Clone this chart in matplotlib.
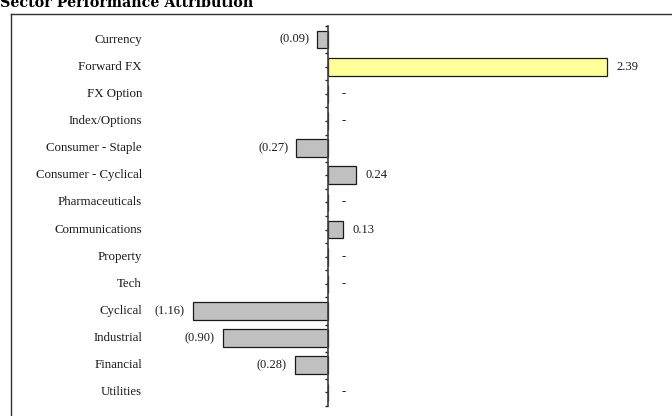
import matplotlib
matplotlib.use("Agg")
import matplotlib.pyplot as plt
from matplotlib.lines import Line2D
from matplotlib.ticker import FixedLocator
import matplotlib.transforms as mtransforms

sectors = ["Currency", "Forward FX", "FX Option", "Index/Options",
           "Consumer - Staple", "Consumer - Cyclical", "Pharmaceuticals",
           "Communications", "Property", "Tech", "Cyclical", "Industrial",
           "Financial", "Utilities"]
values = [-0.09, 2.39, 0.0, 0.0, -0.27, 0.24, 0.0, 0.13, 0.0, 0.0,
          -1.16, -0.90, -0.28, 0.0]
highlight = "Forward FX"

W, H = 672, 416
fig = plt.figure(figsize=(W / 100, H / 100), dpi=100)
fig.patch.set_facecolor("white")

serif = ["Liberation Serif", "DejaVu Serif"]

# plot area in pixel terms
ax_left, ax_right = 0, W
ax_top, ax_bottom = 26, 406
ax = fig.add_axes([ax_left / W, 1 - ax_bottom / H,
                   (ax_right - ax_left) / W, (ax_bottom - ax_top) / H])
ax.patch.set_alpha(0)

zero_px = 328
px_per_unit = 116.7
ax.set_xlim((ax_left - zero_px) / px_per_unit, (ax_right - zero_px) / px_per_unit)
n = len(sectors)
ax.set_ylim(n - 0.5, -0.5)

colors = ["#FFFF99" if s == highlight else "#C0C0C0" for s in sectors]
ypos = list(range(n))
ax.barh(ypos, values, height=0.65, color=colors, edgecolor="#1a1a1a",
        linewidth=0.9, zorder=2)

# axis line through zero with tick marks
for side in ["top", "right", "bottom"]:
    ax.spines[side].set_visible(False)
ax.spines["left"].set_position(("data", 0))
ax.spines["left"].set_color("#404040")
ax.spines["left"].set_linewidth(1.2)
ax.spines["left"].set_zorder(3)
ax.xaxis.set_visible(False)
ax.yaxis.set_major_locator(FixedLocator([i - 0.5 for i in range(n + 1)]))
ax.yaxis.set_minor_locator(FixedLocator(ypos))
ax.tick_params(axis="y", which="both", direction="out", length=2.5,
               width=1.0, color="#202020", labelleft=False)

# category labels
lab_tr = mtransforms.blended_transform_factory(fig.transFigure, ax.transData)
for i, s in enumerate(sectors):
    ax.text(142 / W, i, s, transform=lab_tr, ha="right", va="center",
            fontsize=9.3, family=serif, color="#1a1a1a")

# value labels
for i, v in enumerate(values):
    if v > 0:
        txt, ha, off = f"{v:.2f}", "left", 7
    elif v < 0:
        txt, ha, off = f"({abs(v):.2f})", "right", -6
    else:
        txt, ha, off = "-", "left", 10
    ax.annotate(txt, (v, i), xytext=(off, 0), textcoords="offset points",
                ha=ha, va="center", fontsize=9, family=serif, color="#1a1a1a")

# chart frame
fig.add_artist(Line2D([11 / W, 11 / W], [0, 1 - 14 / H], transform=fig.transFigure,
                      color="#303030", lw=1.0))
fig.add_artist(Line2D([11 / W, 1], [1 - 14 / H, 1 - 14 / H], transform=fig.transFigure,
                      color="#303030", lw=1.0))

fig.text(0, 1 - 7 / H, "Sector Performance Attribution", ha="left", va="baseline",
         fontsize=10.3, fontweight="bold", family=["DejaVu Serif"], color="black")

fig.savefig("out.png", dpi=100)
